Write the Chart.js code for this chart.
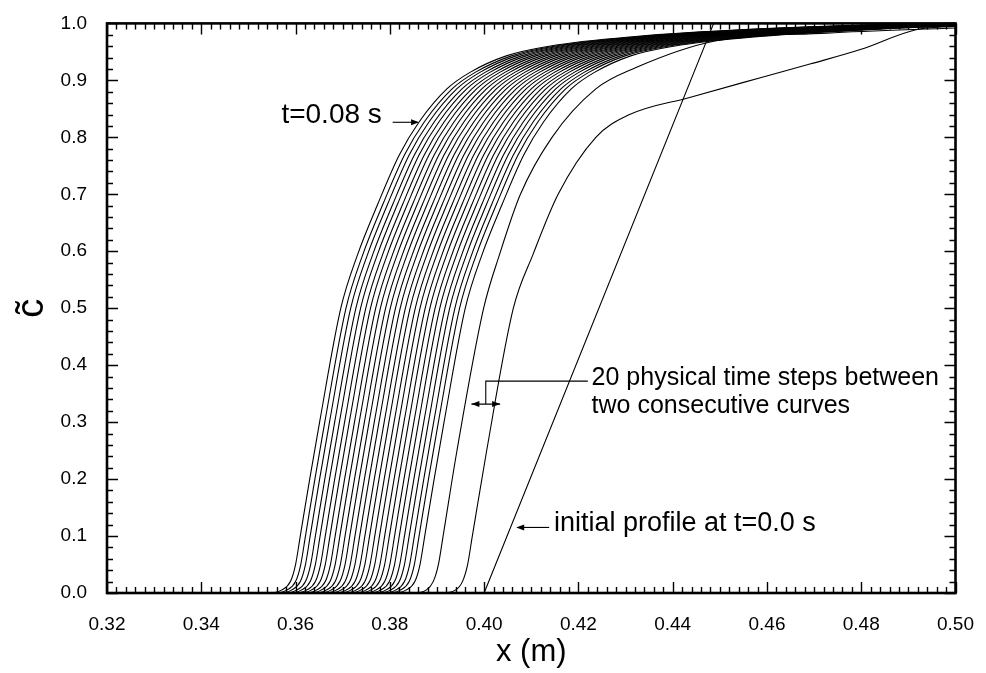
<!DOCTYPE html>
<html>
<head>
<meta charset="utf-8">
<script src="https://cdn.jsdelivr.net/npm/chart.js@4.4.1/dist/chart.umd.min.js"></script>
<style>
    html, body { margin: 0; padding: 0; background: #fff; }
    #wrap { width: 986px; height: 673px; }
</style>
</head>
<body>
<div id="wrap"><canvas id="profileChart"></canvas></div>
<script>
// profile at t=0.08 s (leftmost curve of the family)
var baseX = [0.3200, 0.3545, 0.3570, 0.3589, 0.3600, 0.3610, 0.3630, 0.3651, 0.3696, 0.3732, 0.3774, 0.3820, 0.3862, 0.3921, 0.3970, 0.4047, 0.4138, 0.4321, 0.4573, 0.4804, 0.5000];
var baseC = [0.000, 0.000, 0.005, 0.020, 0.050, 0.100, 0.200, 0.300, 0.500, 0.595, 0.682, 0.769, 0.827, 0.885, 0.914, 0.943, 0.960, 0.977, 0.990, 0.997, 1.000];

// where each curve of the family crosses c=0.5, left (t=0.08 s) to right
var familyX50 = [0.3696, 0.3707, 0.3717, 0.3728, 0.3738, 0.3749, 0.3759, 0.3770, 0.3780, 0.3791, 0.3801, 0.3812, 0.3822,
                 0.3833, 0.3843, 0.3854, 0.3864, 0.3875, 0.3885, 0.3896, 0.3906, 0.3917, 0.3927, 0.3938, 0.3948, 0.3960];

// two early curves
var earlyAX = [0.3200, 0.3850, 0.3877, 0.3892, 0.3903, 0.3913, 0.3942, 0.3999, 0.4033, 0.4077, 0.4144, 0.4237, 0.4321, 0.4489, 0.4727, 0.5000];
var earlyAC = [0.000, 0.000, 0.005, 0.020, 0.050, 0.100, 0.248, 0.500, 0.595, 0.700, 0.800, 0.885, 0.922, 0.969, 0.983, 0.992];
var earlyBX = [0.3200, 0.3910, 0.3939, 0.3954, 0.3965, 0.3975, 0.4005, 0.4062, 0.4104, 0.4157, 0.4237, 0.4306, 0.4436, 0.4588, 0.4693, 0.4798, 0.4916, 0.5000];
var earlyBC = [0.000, 0.000, 0.005, 0.020, 0.050, 0.100, 0.248, 0.500, 0.595, 0.700, 0.800, 0.839, 0.870, 0.905, 0.929, 0.954, 0.989, 0.995];

// initial profile at t=0.0 s
var initX = [0.3200, 0.4000, 0.4487, 0.5000];
var initC = [0.0, 0.0, 1.0, 1.0];

var xTickLabels = ["0.32", "0.34", "0.36", "0.38", "0.40", "0.42", "0.44", "0.46", "0.48", "0.50"];
var yTickLabels = ["0.0", "0.1", "0.2", "0.3", "0.4", "0.5", "0.6", "0.7", "0.8", "0.9", "1.0"];

var fontFamily = "'Liberation Sans', Arial, Helvetica, sans-serif";

function toPoints(xs, cs, dx) {
    return xs.map(function (x, i) {
        return { x: x + dx, y: cs[i] };
    });
}

function curve(points, smooth) {
    return {
        data: points,
        showLine: true,
        borderColor: "#000",
        borderWidth: 1.1,
        pointRadius: 0,
        fill: false,
        cubicInterpolationMode: smooth ? "monotone" : "default",
        tension: 0,
    };
}

let datasets = [];
familyX50.forEach(function (x50) {
    datasets.push(curve(toPoints(baseX, baseC, x50 - familyX50[0]), true));
});
datasets.push(curve(toPoints(earlyAX, earlyAC, 0), true));
datasets.push(curve(toPoints(earlyBX, earlyBC, 0), true));
datasets.push(curve(toPoints(initX, initC, 0), false));

function arrowHead(ctx, x, y, dir) {
    ctx.beginPath();
    ctx.moveTo(x, y);
    ctx.lineTo(x - dir * 8, y - 3);
    ctx.lineTo(x - dir * 8, y + 3);
    ctx.closePath();
    ctx.fill();
}

// inward ticks on all four sides, frame and the notes
const frameAndNotes = {
    id: "frameAndNotes",
    afterDatasetsDraw(chart) {
        const ctx = chart.ctx;
        const a = chart.chartArea;
        const sx = chart.scales.x;
        const sy = chart.scales.y;
        ctx.save();
        ctx.strokeStyle = "#000";
        ctx.fillStyle = "#000";
        ctx.lineWidth = 1.4;
        ctx.beginPath();
        for (let i = 0; i <= 90; i++) {
            let px = Math.round(sx.getPixelForValue(0.32 + i * 0.002)) + 0.5;
            let len = i % 10 === 0 ? 11 : 6;
            ctx.moveTo(px, a.bottom);
            ctx.lineTo(px, a.bottom - len);
            ctx.moveTo(px, a.top);
            ctx.lineTo(px, a.top + len);
        }
        for (let j = 0; j <= 50; j++) {
            let py = Math.round(sy.getPixelForValue(j * 0.02)) + 0.5;
            let len = j % 5 === 0 ? 11 : 6;
            ctx.moveTo(a.left, py);
            ctx.lineTo(a.left + len, py);
            ctx.moveTo(a.right, py);
            ctx.lineTo(a.right - len, py);
        }
        ctx.stroke();

        ctx.lineWidth = 2.6;
        ctx.strokeRect(a.left, a.top, a.right - a.left, a.bottom - a.top);

        // notes
        ctx.lineWidth = 1.1;
        ctx.font = "28px " + fontFamily;
        ctx.textBaseline = "alphabetic";
        ctx.textAlign = "left";

        ctx.fillText("t=0.08 s", sx.getPixelForValue(0.3570), sy.getPixelForValue(0.8247));
        let ay = sy.getPixelForValue(0.8264);
        ctx.beginPath();
        ctx.moveTo(sx.getPixelForValue(0.3806), ay);
        ctx.lineTo(sx.getPixelForValue(0.3858), ay);
        ctx.stroke();
        arrowHead(ctx, sx.getPixelForValue(0.3862), ay, 1);

        // double arrow between two consecutive curves
        let dy = sy.getPixelForValue(0.3316);
        let d0 = sx.getPixelForValue(0.3973);
        let d1 = sx.getPixelForValue(0.4034);
        ctx.beginPath();
        ctx.moveTo(d0, dy);
        ctx.lineTo(d1, dy);
        let dm = (d0 + d1) / 2;
        let ly = sy.getPixelForValue(0.372);
        ctx.moveTo(dm, dy);
        ctx.lineTo(dm, ly);
        ctx.lineTo(sx.getPixelForValue(0.4220), ly);
        ctx.stroke();
        arrowHead(ctx, d0, dy, -1);
        arrowHead(ctx, d1, dy, 1);
        ctx.font = "25px " + fontFamily;
        ctx.fillText("20 physical time steps between", sx.getPixelForValue(0.4228), sy.getPixelForValue(0.3646));
        ctx.fillText("two consecutive curves", sx.getPixelForValue(0.4228), sy.getPixelForValue(0.316));

        // initial profile
        ctx.font = "27px " + fontFamily;
        let iy = sy.getPixelForValue(0.1151);
        ctx.beginPath();
        ctx.moveTo(sx.getPixelForValue(0.4138), iy);
        ctx.lineTo(sx.getPixelForValue(0.4072), iy);
        ctx.stroke();
        arrowHead(ctx, sx.getPixelForValue(0.4068), iy, -1);
        ctx.fillText("initial profile at t=0.0 s", sx.getPixelForValue(0.4148), sy.getPixelForValue(0.1094));
        ctx.restore();
    },
};

let config_profile = {
    type: "scatter",
    data: { datasets: datasets },
    options: {
        responsive: true,
        maintainAspectRatio: false,
        animation: false,
        layout: {
            padding: { left: 0, top: 17, right: 23, bottom: 0 },
        },
        scales: {
            x: {
                type: "linear",
                min: 0.32,
                max: 0.5,
                afterFit: function (scale) {
                    scale.height = 80;
                },
                grid: { display: false },
                border: { display: false },
                ticks: {
                    stepSize: 0.02,
                    padding: 12,
                    color: "#000",
                    font: { family: fontFamily, size: 19 },
                    callback: function (value) {
                        return xTickLabels[Math.round((value - 0.32) / 0.02)];
                    },
                },
                title: {
                    display: true,
                    text: "x (m)",
                    color: "#000",
                    font: { family: fontFamily, size: 31 },
                    padding: { top: 0, bottom: 2 },
                },
            },
            y: {
                type: "linear",
                min: 0,
                max: 1,
                afterFit: function (scale) {
                    scale.width = 107;
                },
                grid: { display: false },
                border: { display: false },
                ticks: {
                    stepSize: 0.1,
                    padding: 12,
                    color: "#000",
                    font: { family: fontFamily, size: 19 },
                    callback: function (value) {
                        return yTickLabels[Math.round(value / 0.1)];
                    },
                },
                title: {
                    display: true,
                    text: "c\u0303",
                    color: "#000",
                    font: { family: fontFamily, size: 38 },
                    padding: { top: 10, bottom: 10 },
                },
            },
        },
        plugins: {
            legend: { display: false },
            tooltip: { enabled: false },
        },
    },
    plugins: [frameAndNotes],
};

let profileChart = new Chart("profileChart", config_profile);
</script>
</body>
</html>
